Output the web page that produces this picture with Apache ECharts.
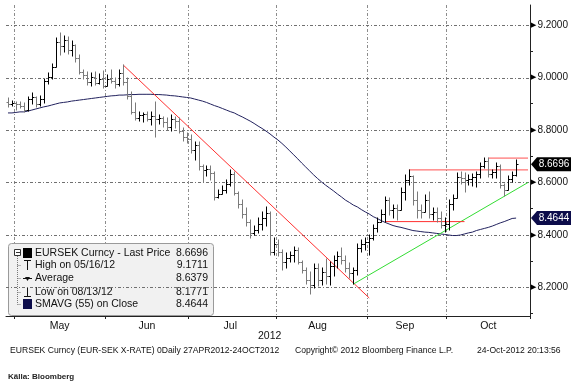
<!DOCTYPE html>
<html><head><meta charset="utf-8">
<script src="https://cdn.jsdelivr.net/npm/echarts@6/dist/echarts.min.js"></script>
<style>html,body{margin:0;padding:0;background:#fff}#c{width:581px;height:385px}</style>
</head><body><div id="c"></div>
<script>
// trading days (last three are empty padding days before the right axis)
const dates = ['04/27','04/30',
'05/01','05/02','05/03','05/04','05/07','05/08','05/09','05/10','05/11','05/14','05/15','05/16','05/17','05/18','05/21','05/22','05/23','05/24','05/25','05/28','05/29','05/30','05/31',
'06/01','06/04','06/05','06/06','06/07','06/08','06/11','06/12','06/13','06/14','06/15','06/18','06/19','06/20','06/21','06/22','06/25','06/26','06/27','06/28','06/29',
'07/02','07/03','07/04','07/05','07/06','07/09','07/10','07/11','07/12','07/13','07/16','07/17','07/18','07/19','07/20','07/23','07/24','07/25','07/26','07/27','07/30','07/31',
'08/01','08/02','08/03','08/06','08/07','08/08','08/09','08/10','08/13','08/14','08/15','08/16','08/17','08/20','08/21','08/22','08/23','08/24','08/27','08/28','08/29','08/30','08/31',
'09/03','09/04','09/05','09/06','09/07','09/10','09/11','09/12','09/13','09/14','09/17','09/18','09/19','09/20','09/21','09/24','09/25','09/26','09/27','09/28',
'10/01','10/02','10/03','10/04','10/05','10/08','10/09','10/10','10/11','10/12','10/15','10/16','10/17','10/18','10/19','10/22','10/23','10/24','10/25','10/26','10/29'];

const closeVals = [8.899,8.903,8.899,8.891,8.876,8.918,8.926,8.899,8.918,8.987,
9.002,9.040,9.135,9.120,9.143,9.105,9.124,9.074,9.021,9.010,
8.983,9.002,8.979,8.994,8.968,8.994,8.987,8.975,9.017,8.983,
8.930,8.869,8.846,8.857,8.861,8.842,8.853,8.842,8.846,8.830,
8.811,8.842,8.834,8.796,8.773,8.766,8.724,8.743,8.663,8.648,
8.652,8.636,8.545,8.556,8.571,8.594,8.632,8.560,8.518,8.480,
8.450,8.408,8.419,8.442,8.465,8.484,8.335,8.366,8.335,8.297,
8.312,8.324,8.343,8.297,8.267,8.229,8.210,8.274,8.229,8.259,
8.244,8.282,8.305,8.320,8.305,8.274,8.255,8.267,8.350,8.366,
8.373,8.389,8.427,8.450,8.480,8.533,8.495,8.503,8.495,8.564,
8.610,8.625,8.533,8.495,8.488,8.533,8.480,8.488,8.465,8.438,
8.442,8.518,8.541,8.621,8.617,8.610,8.613,8.621,8.632,8.663,
8.682,8.632,8.640,8.663,8.590,8.571,8.613,8.629,8.6696];

const openVals = [8.905,8.899,8.903,8.899,8.891,8.876,8.918,8.926,8.899,8.918,
8.987,9.002,9.040,9.135,9.120,9.143,9.105,9.124,9.074,9.021,
9.010,8.983,9.002,8.979,8.994,8.968,8.994,8.987,8.975,9.017,
8.983,8.930,8.869,8.846,8.857,8.861,8.842,8.853,8.842,8.846,
8.830,8.811,8.842,8.834,8.796,8.773,8.766,8.724,8.743,8.663,
8.648,8.652,8.636,8.545,8.556,8.571,8.594,8.632,8.560,8.518,
8.480,8.450,8.408,8.419,8.442,8.465,8.484,8.335,8.366,8.335,
8.297,8.312,8.324,8.343,8.297,8.267,8.229,8.210,8.274,8.229,
8.259,8.244,8.282,8.305,8.320,8.305,8.274,8.255,8.267,8.350,
8.366,8.373,8.389,8.427,8.450,8.480,8.533,8.495,8.503,8.495,
8.564,8.610,8.625,8.533,8.495,8.488,8.533,8.480,8.488,8.465,
8.438,8.442,8.518,8.541,8.621,8.617,8.610,8.613,8.621,8.632,
8.663,8.682,8.632,8.640,8.663,8.590,8.571,8.613,8.629];

const highVals = [8.922,8.910,8.907,8.907,8.903,8.926,8.941,8.926,8.930,8.994,
9.017,9.051,9.150,9.1711,9.158,9.154,9.139,9.124,9.086,9.029,
9.021,9.017,9.021,9.013,9.025,9.010,9.029,8.998,9.029,9.048,
8.998,8.945,8.903,8.869,8.865,8.869,8.869,8.907,8.857,8.850,
8.846,8.857,8.850,8.846,8.808,8.789,8.781,8.754,8.754,8.667,
8.663,8.663,8.640,8.571,8.587,8.610,8.648,8.640,8.564,8.533,
8.503,8.457,8.434,8.465,8.488,8.507,8.488,8.389,8.381,8.343,
8.331,8.335,8.354,8.350,8.300,8.274,8.259,8.290,8.290,8.274,
8.309,8.297,8.320,8.335,8.350,8.320,8.293,8.274,8.366,8.381,
8.389,8.400,8.438,8.465,8.495,8.545,8.541,8.514,8.514,8.579,
8.629,8.648,8.625,8.564,8.514,8.552,8.564,8.503,8.503,8.488,
8.465,8.533,8.552,8.636,8.640,8.636,8.629,8.632,8.640,8.674,
8.693,8.693,8.648,8.674,8.667,8.594,8.625,8.640,8.686];

const lowVals = [8.888,8.891,8.876,8.884,8.869,8.872,8.899,8.888,8.891,8.903,
8.975,8.994,9.040,9.086,9.097,9.090,9.082,9.059,9.013,8.994,
8.971,8.968,8.971,8.975,8.960,8.968,8.979,8.960,8.968,8.971,
8.918,8.861,8.838,8.834,8.830,8.834,8.819,8.773,8.823,8.811,
8.800,8.796,8.808,8.789,8.758,8.750,8.712,8.686,8.648,8.602,
8.625,8.610,8.533,8.541,8.556,8.560,8.587,8.552,8.503,8.465,
8.434,8.389,8.400,8.408,8.419,8.434,8.324,8.324,8.320,8.267,
8.274,8.297,8.297,8.290,8.255,8.213,8.1771,8.198,8.206,8.210,
8.213,8.210,8.244,8.274,8.290,8.259,8.236,8.213,8.248,8.335,
8.343,8.324,8.381,8.411,8.450,8.450,8.476,8.465,8.457,8.495,
8.533,8.590,8.514,8.465,8.465,8.488,8.465,8.457,8.450,8.427,
8.411,8.419,8.495,8.541,8.594,8.564,8.590,8.587,8.583,8.617,
8.655,8.621,8.617,8.617,8.579,8.549,8.571,8.602,8.625];

const smaVals = [8.865,8.865,8.867,8.869,8.869,8.872,8.876,8.880,8.884,8.888,
8.891,8.895,8.899,8.903,8.905,8.907,8.910,8.912,8.914,8.916,
8.918,8.920,8.922,8.924,8.926,8.928,8.930,8.931,8.933,8.933,
8.934,8.935,8.935,8.936,8.936,8.936,8.936,8.935,8.935,8.934,
8.933,8.931,8.930,8.928,8.926,8.924,8.922,8.918,8.914,8.910,
8.905,8.899,8.893,8.888,8.882,8.876,8.870,8.865,8.857,8.850,
8.842,8.834,8.825,8.815,8.806,8.796,8.785,8.773,8.762,8.749,
8.735,8.720,8.705,8.690,8.674,8.659,8.644,8.629,8.615,8.602,
8.590,8.579,8.568,8.556,8.545,8.533,8.524,8.514,8.507,8.497,
8.488,8.480,8.470,8.463,8.455,8.448,8.442,8.436,8.432,8.429,
8.425,8.421,8.417,8.415,8.413,8.411,8.410,8.408,8.406,8.404,
8.402,8.400,8.398,8.398,8.400,8.404,8.408,8.411,8.417,8.421,
8.425,8.429,8.434,8.440,8.446,8.451,8.457,8.463,8.4644];

// trend lines drawn on the chart
const downTrend = [['06/07', 9.048], ['09/03', 8.160]];
const upTrend = [['08/28', 8.213], ['10/29', 8.600]];
const resistTop = [['10/15', 8.693], ['10/29', 8.693]];
const resistMid = [['09/17', 8.648], ['10/29', 8.648]];
const supportLine = [['09/07', 8.451], ['10/05', 8.451]];

// axes
const yLabelVals = [8.2, 8.4, 8.6, 8.8, 9.0, 9.2];
const yTickVals = [8.1, 8.2, 8.3, 8.4, 8.5, 8.6, 8.7, 8.8, 8.9, 9.0, 9.1, 9.2];
const monthStarts = ['05/01', '06/01', '07/02', '08/01', '09/03', '10/01'];
const monthLabelDays = ['05/16', '06/15', '07/16', '08/15', '09/14', '10/15'];
const monthNames = ['May', 'Jun', 'Jul', 'Aug', 'Sep', 'Oct'];

// legend
const legendNames = ['EURSEK Curncy - Last Price', 'High on 05/16/12', 'Average', 'Low on 08/13/12', 'SMAVG (55) on Close'];
const legendValues = ['8.6696', '9.1711', '8.6379', '8.1771', '8.4644'];
const lastPrice = 8.6696;
const lastSma = 8.4644;

const footerLeft = 'EURSEK Curncy (EUR-SEK X-RATE) 0Daily 27APR2012-24OCT2012';
const footerMid = 'Copyright\u00a9 2012 Bloomberg Finance L.P.';
const footerRight = '24-Oct-2012 20:13:56';
const sourceText = 'K\u00e4lla: Bloomberg';

const ohlc = closeVals.map((c, i) => [i, openVals[i], c, lowVals[i], highVals[i]]);

function renderOHLC(params, api) {
  const i = api.value(0);
  const o = api.value(1), c = api.value(2), l = api.value(3), h = api.value(4);
  const p = api.coord([i, o]);
  const x = Math.round(p[0]) + 0.5;
  const yo = Math.round(p[1]) + 0.5;
  const yc = Math.round(api.coord([i, c])[1]) + 0.5;
  const yl = Math.round(api.coord([i, l])[1]) + 0.5;
  const yh = Math.round(api.coord([i, h])[1]) - 0.5;
  const col = c >= o ? '#000000' : '#7a7a7a';
  const st = { stroke: col, lineWidth: 1 };
  return { type: 'group', children: [
    { type: 'line', shape: { x1: x, y1: yh, x2: x, y2: yl }, style: st },
    { type: 'line', shape: { x1: x - 2, y1: yo, x2: x, y2: yo }, style: st },
    { type: 'line', shape: { x1: x, y1: yc, x2: x + 2, y2: yc }, style: st }
  ]};
}

const FONT = 'Liberation Sans';
const chart = echarts.init(document.getElementById('c'), null, { renderer: 'canvas' });

const trendSeries = (data, color) => ({
  type: 'line', data: data, symbol: 'none', silent: true, z: 4,
  lineStyle: { color: color, width: 1 }
});

const GRID = { left: 6, right: 51, top: 5, bottom: 69 };

chart.setOption({
  animation: false,
  backgroundColor: '#ffffff',
  grid: GRID,
  xAxis: {
    type: 'category', data: dates, boundaryGap: true,
    axisLine: { show: true, lineStyle: { color: '#222', width: 1 } },
    axisTick: { show: true, length: 3, interval: (i, v) => monthStarts.includes(v), lineStyle: { color: '#222' } },
    axisLabel: { interval: (i, v) => monthLabelDays.includes(v), formatter: v => monthNames[monthLabelDays.indexOf(v)],
      margin: 5, color: '#111', fontFamily: FONT, fontSize: 10.5 },
    splitLine: { show: true, interval: (i, v) => monthStarts.includes(v), lineStyle: { color: '#8c8c8c', type: [3, 2, 1, 2], width: 1 } }
  },
  yAxis: {
    type: 'value', position: 'right', min: 8.0914, max: 9.2762,
    axisLine: { show: true, lineStyle: { color: '#222', width: 1 } },
    axisTick: { show: true, customValues: yTickVals, length: 3, lineStyle: { color: '#222' } },
    axisLabel: { customValues: yLabelVals, margin: 1, color: '#111', fontFamily: FONT, fontSize: 10,
      formatter: v => '{a|\u25B6}' + v.toFixed(4),
      rich: { a: { fontSize: 7, color: '#000', fontFamily: 'DejaVu Sans', padding: [0, 1, 0, 0] } } },
    splitLine: { show: false }
  },
  series: [
    { type: 'line', data: smaVals, symbol: 'none', silent: true, z: 3, lineStyle: { color: '#22225e', width: 1 } },
    { type: 'custom', data: ohlc, renderItem: renderOHLC, encode: { x: 0, y: [1, 2, 3, 4] }, z: 5, silent: true },
    trendSeries(downTrend, '#ff3030'),
    trendSeries(upTrend, '#33dd33'),
    trendSeries(resistTop, '#ff5050'),
    trendSeries(resistMid, '#ff5050'),
    trendSeries(supportLine, '#ff3030')
  ]
});

// horizontal grid lines at labelled values, placed through the y axis scale
const gx0 = GRID.left, gx1 = 581 - GRID.right;
const gridLines = yLabelVals.map(v => {
  const y = Math.round(chart.convertToPixel({ yAxisIndex: 0 }, v)) + 0.5;
  return { type: 'line', z: 1, silent: true, shape: { x1: gx0, y1: y, x2: gx1, y2: y },
    style: { stroke: '#707070', lineWidth: 1, lineDash: [3, 2, 1, 2] } };
});

// legend panel and texts
const rowY = [10, 22, 35, 49, 61];
const legendChildren = [
  { type: 'rect', shape: { x: 0.5, y: 0.5, width: 205, height: 72, r: 3 }, style: { fill: '#f1f1f1', stroke: '#9a9a9a', lineWidth: 1 } },
  { type: 'line', shape: { x1: 9.5, y1: 13, x2: 9.5, y2: 61.5 }, style: { stroke: '#777', lineDash: [1, 1], lineWidth: 1 } },
  { type: 'rect', shape: { x: 6.5, y: 6.5, width: 6, height: 6 }, style: { fill: '#fff', stroke: '#333', lineWidth: 1 } },
  { type: 'line', shape: { x1: 8, y1: 9.5, x2: 12, y2: 9.5 }, style: { stroke: '#333', lineWidth: 1 } },
  { type: 'rect', shape: { x: 15, y: 5, width: 9, height: 10 }, style: { fill: '#000' } },
  { type: 'line', shape: { x1: 16, y1: 17.5, x2: 23, y2: 17.5 }, style: { stroke: '#111', lineWidth: 1 } },
  { type: 'line', shape: { x1: 19.5, y1: 17.5, x2: 19.5, y2: 27 }, style: { stroke: '#111', lineWidth: 1 } },
  { type: 'line', shape: { x1: 15, y1: 35.5, x2: 24, y2: 35.5 }, style: { stroke: '#111', lineWidth: 1 } },
  { type: 'polygon', shape: { points: [[17, 34], [22, 34], [19.5, 38]] }, style: { fill: '#111' } },
  { type: 'line', shape: { x1: 19.5, y1: 44, x2: 19.5, y2: 53.5 }, style: { stroke: '#111', lineWidth: 1 } },
  { type: 'line', shape: { x1: 16, y1: 53.5, x2: 23, y2: 53.5 }, style: { stroke: '#111', lineWidth: 1 } },
  { type: 'rect', shape: { x: 15, y: 56, width: 9, height: 10 }, style: { fill: '#0c0c4a' } }
];
rowY.forEach((y, k) => {
  if (k > 0) legendChildren.push({ type: 'line', shape: { x1: 9.5, y1: y + 0.5, x2: 13, y2: y + 0.5 }, style: { stroke: '#777', lineDash: [1, 1], lineWidth: 1 } });
  legendChildren.push({ type: 'text', x: 27, y: y, style: { text: legendNames[k], fill: '#111', font: '10.5px ' + FONT, textVerticalAlign: 'middle' } });
  legendChildren.push({ type: 'text', x: 200, y: y, style: { text: legendValues[k], fill: '#111', font: '10.5px ' + FONT, textAlign: 'right', textVerticalAlign: 'middle' } });
});

function priceTag(value, fill) {
  const y = chart.convertToPixel({ yAxisIndex: 0 }, value);
  const x0 = 531;
  return { type: 'group', z: 50, children: [
    { type: 'polygon', shape: { points: [[x0, y], [x0 + 6, y - 7], [x0 + 40, y - 7], [x0 + 40, y + 7], [x0 + 6, y + 7]] }, style: { fill: fill } },
    { type: 'text', x: x0 + 23, y: y, style: { text: value.toFixed(4), fill: '#fff', font: '10px ' + FONT, textAlign: 'center', textVerticalAlign: 'middle' } }
  ]};
}

chart.setOption({
  graphic: gridLines.concat([
    { type: 'group', left: 8, top: 243, z: 100, children: legendChildren },
    { type: 'text', left: 258, top: 331, z: 100, style: { text: '2012', fill: '#111', font: '10.5px ' + FONT } },
    { type: 'text', left: 10, top: 346, z: 100, style: { text: footerLeft, fill: '#111', font: '8.6px ' + FONT } },
    { type: 'text', left: 295, top: 346, z: 100, style: { text: footerMid, fill: '#111', font: '8.6px ' + FONT } },
    { type: 'text', left: 477, top: 346, z: 100, style: { text: footerRight, fill: '#111', font: '8.6px ' + FONT } },
    { type: 'text', left: 8, top: 373, z: 100, style: { text: sourceText, fill: '#222', font: 'bold 8px "Liberation Sans Narrow", ' + FONT } },
    priceTag(lastPrice, '#000000'),
    priceTag(lastSma, '#0c0c4a')
  ])
});
</script></body></html>
